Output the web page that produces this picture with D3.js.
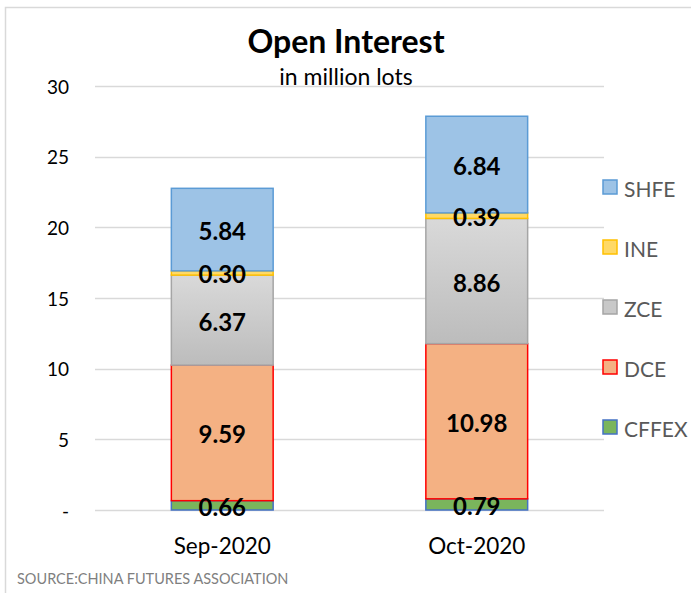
<!DOCTYPE html>
<html>
<head>
<meta charset="utf-8">
<script src="https://cdn.jsdelivr.net/npm/d3@7"></script>
<style>
  body { margin: 0; background: #fff; }
  text { font-family: Lato, "Open Sans", sans-serif; }
</style>
</head>
<body>
<div id="chart"></div>
<script>
// data
var months = ["Sep-2020", "Oct-2020"];
var exchanges = ["CFFEX", "DCE", "ZCE", "INE", "SHFE"];
var cffex = [0.66, 0.79];
var dce = [9.59, 10.98];
var zce = [6.37, 8.86];
var ine = [0.30, 0.39];
var shfe = [5.84, 6.84];
var yTicks = [0, 5, 10, 15, 20, 25, 30];

var width = 691, height = 593;
var fills = { CFFEX: "#7ab55c", DCE: "#f4b183", ZCE: "url(#zceGrad)", INE: "#ffd966", SHFE: "#9dc3e6" };
var strokes = { CFFEX: "#4472c4", DCE: "#ff0000", ZCE: "#a5a5a5", INE: "#ffc000", SHFE: "#5b9bd5" };

var rows = months.map(function (m, i) {
  return { month: m, CFFEX: cffex[i], DCE: dce[i], ZCE: zce[i], INE: ine[i], SHFE: shfe[i] };
});
var series = d3.stack().keys(exchanges)(rows);

var svg = d3.select("#chart").append("svg")
  .attr("width", width)
  .attr("height", height);

var defs = svg.append("defs");
var grad = defs.append("linearGradient")
  .attr("id", "zceGrad")
  .attr("x1", 0).attr("y1", 0).attr("x2", 0).attr("y2", 1);
grad.append("stop").attr("offset", "0%").attr("stop-color", "#d9d9d9");
grad.append("stop").attr("offset", "100%").attr("stop-color", "#bcbcbc");

// chart border
svg.append("rect")
  .attr("x", 5.5).attr("y", 7.5)
  .attr("width", 700).attr("height", 600)
  .attr("fill", "none")
  .attr("stroke", "#d9d9d9")
  .attr("stroke-width", 1.5);

var x = d3.scaleBand().domain(months).range([95, 604]).paddingInner(0.6).paddingOuter(0.3);
var y = d3.scaleLinear().domain([0, 30]).range([510, 86]);

// gridlines
svg.selectAll(".grid")
  .data(yTicks)
  .enter()
  .append("line")
  .attr("x1", 95).attr("x2", 604)
  .attr("y1", function (d) { return Math.round(y(d)) + 0.5; })
  .attr("y2", function (d) { return Math.round(y(d)) + 0.5; })
  .attr("stroke", "#d9d9d9")
  .attr("stroke-width", 1.5);

// y tick labels
svg.selectAll(".ytick")
  .data(yTicks)
  .enter()
  .append("text")
  .attr("x", 69)
  .attr("y", function (d) { return y(d); })
  .attr("text-anchor", "end")
  .attr("dominant-baseline", "central")
  .style("font-size", "19px")
  .attr("fill", "#000")
  .text(function (d) { return d === 0 ? "-" : d; });

// bars
var groups = svg.selectAll(".series")
  .data(series)
  .enter()
  .append("g")
  .attr("fill", function (d) { return fills[d.key]; })
  .attr("stroke", function (d) { return strokes[d.key]; })
  .attr("stroke-width", 1.5);

groups.selectAll("rect")
  .data(function (d) { return d; })
  .enter()
  .append("rect")
  .attr("x", function (d) { return x(d.data.month); })
  .attr("width", x.bandwidth())
  .attr("y", function (d) { return y(d[1]); })
  .attr("height", function (d) { return y(d[0]) - y(d[1]); });

// value labels
series.forEach(function (s) {
  svg.selectAll(".lbl-" + s.key)
    .data(s)
    .enter()
    .append("text")
    .attr("x", function (d) { return x(d.data.month) + x.bandwidth() / 2; })
    .attr("y", function (d) { return y((d[0] + d[1]) / 2) + 1; })
    .attr("text-anchor", "middle")
    .attr("dominant-baseline", "central")
    .style("font-size", "24px")
    .style("font-weight", "bold")
    .attr("fill", "#000")
    .text(function (d) { return (d[1] - d[0]).toFixed(2); });
});

// x labels
svg.selectAll(".xlbl")
  .data(months)
  .enter()
  .append("text")
  .attr("x", function (d) { return x(d) + x.bandwidth() / 2; })
  .attr("y", 545)
  .attr("text-anchor", "middle")
  .attr("dominant-baseline", "central")
  .style("font-size", "22.5px")
  .attr("fill", "#000")
  .text(function (d) { return d; });

// legend
var legendOrder = exchanges.slice().reverse();
var legend = svg.selectAll(".legend")
  .data(legendOrder)
  .enter()
  .append("g")
  .attr("transform", function (d, i) { return "translate(603," + (187 + i * 60) + ")"; });

legend.append("rect")
  .attr("x", 0).attr("y", -7)
  .attr("width", 14).attr("height", 14)
  .attr("fill", function (d) { return d === "ZCE" ? "#c8c8c8" : fills[d]; })
  .attr("stroke", function (d) { return strokes[d]; })
  .attr("stroke-width", 1.5);

legend.append("text")
  .attr("x", 21)
  .attr("y", 1)
  .attr("dominant-baseline", "central")
  .style("font-size", "21px")
  .attr("fill", "#595959")
  .text(function (d) { return d; });

// titles
svg.append("text")
  .attr("x", 346).attr("y", 53)
  .attr("text-anchor", "middle")
  .style("font-size", "32px")
  .style("font-weight", "bold")
  .attr("fill", "#000")
  .text("Open Interest");

svg.append("text")
  .attr("x", 346).attr("y", 85)
  .attr("text-anchor", "middle")
  .style("font-size", "23px")
  .attr("fill", "#000")
  .text("in million lots");

svg.append("text")
  .attr("x", 17).attr("y", 584)
  .style("font-size", "14.5px")
  .attr("fill", "#7f7f7f")
  .text("SOURCE:CHINA FUTURES ASSOCIATION");
</script>
</body>
</html>
